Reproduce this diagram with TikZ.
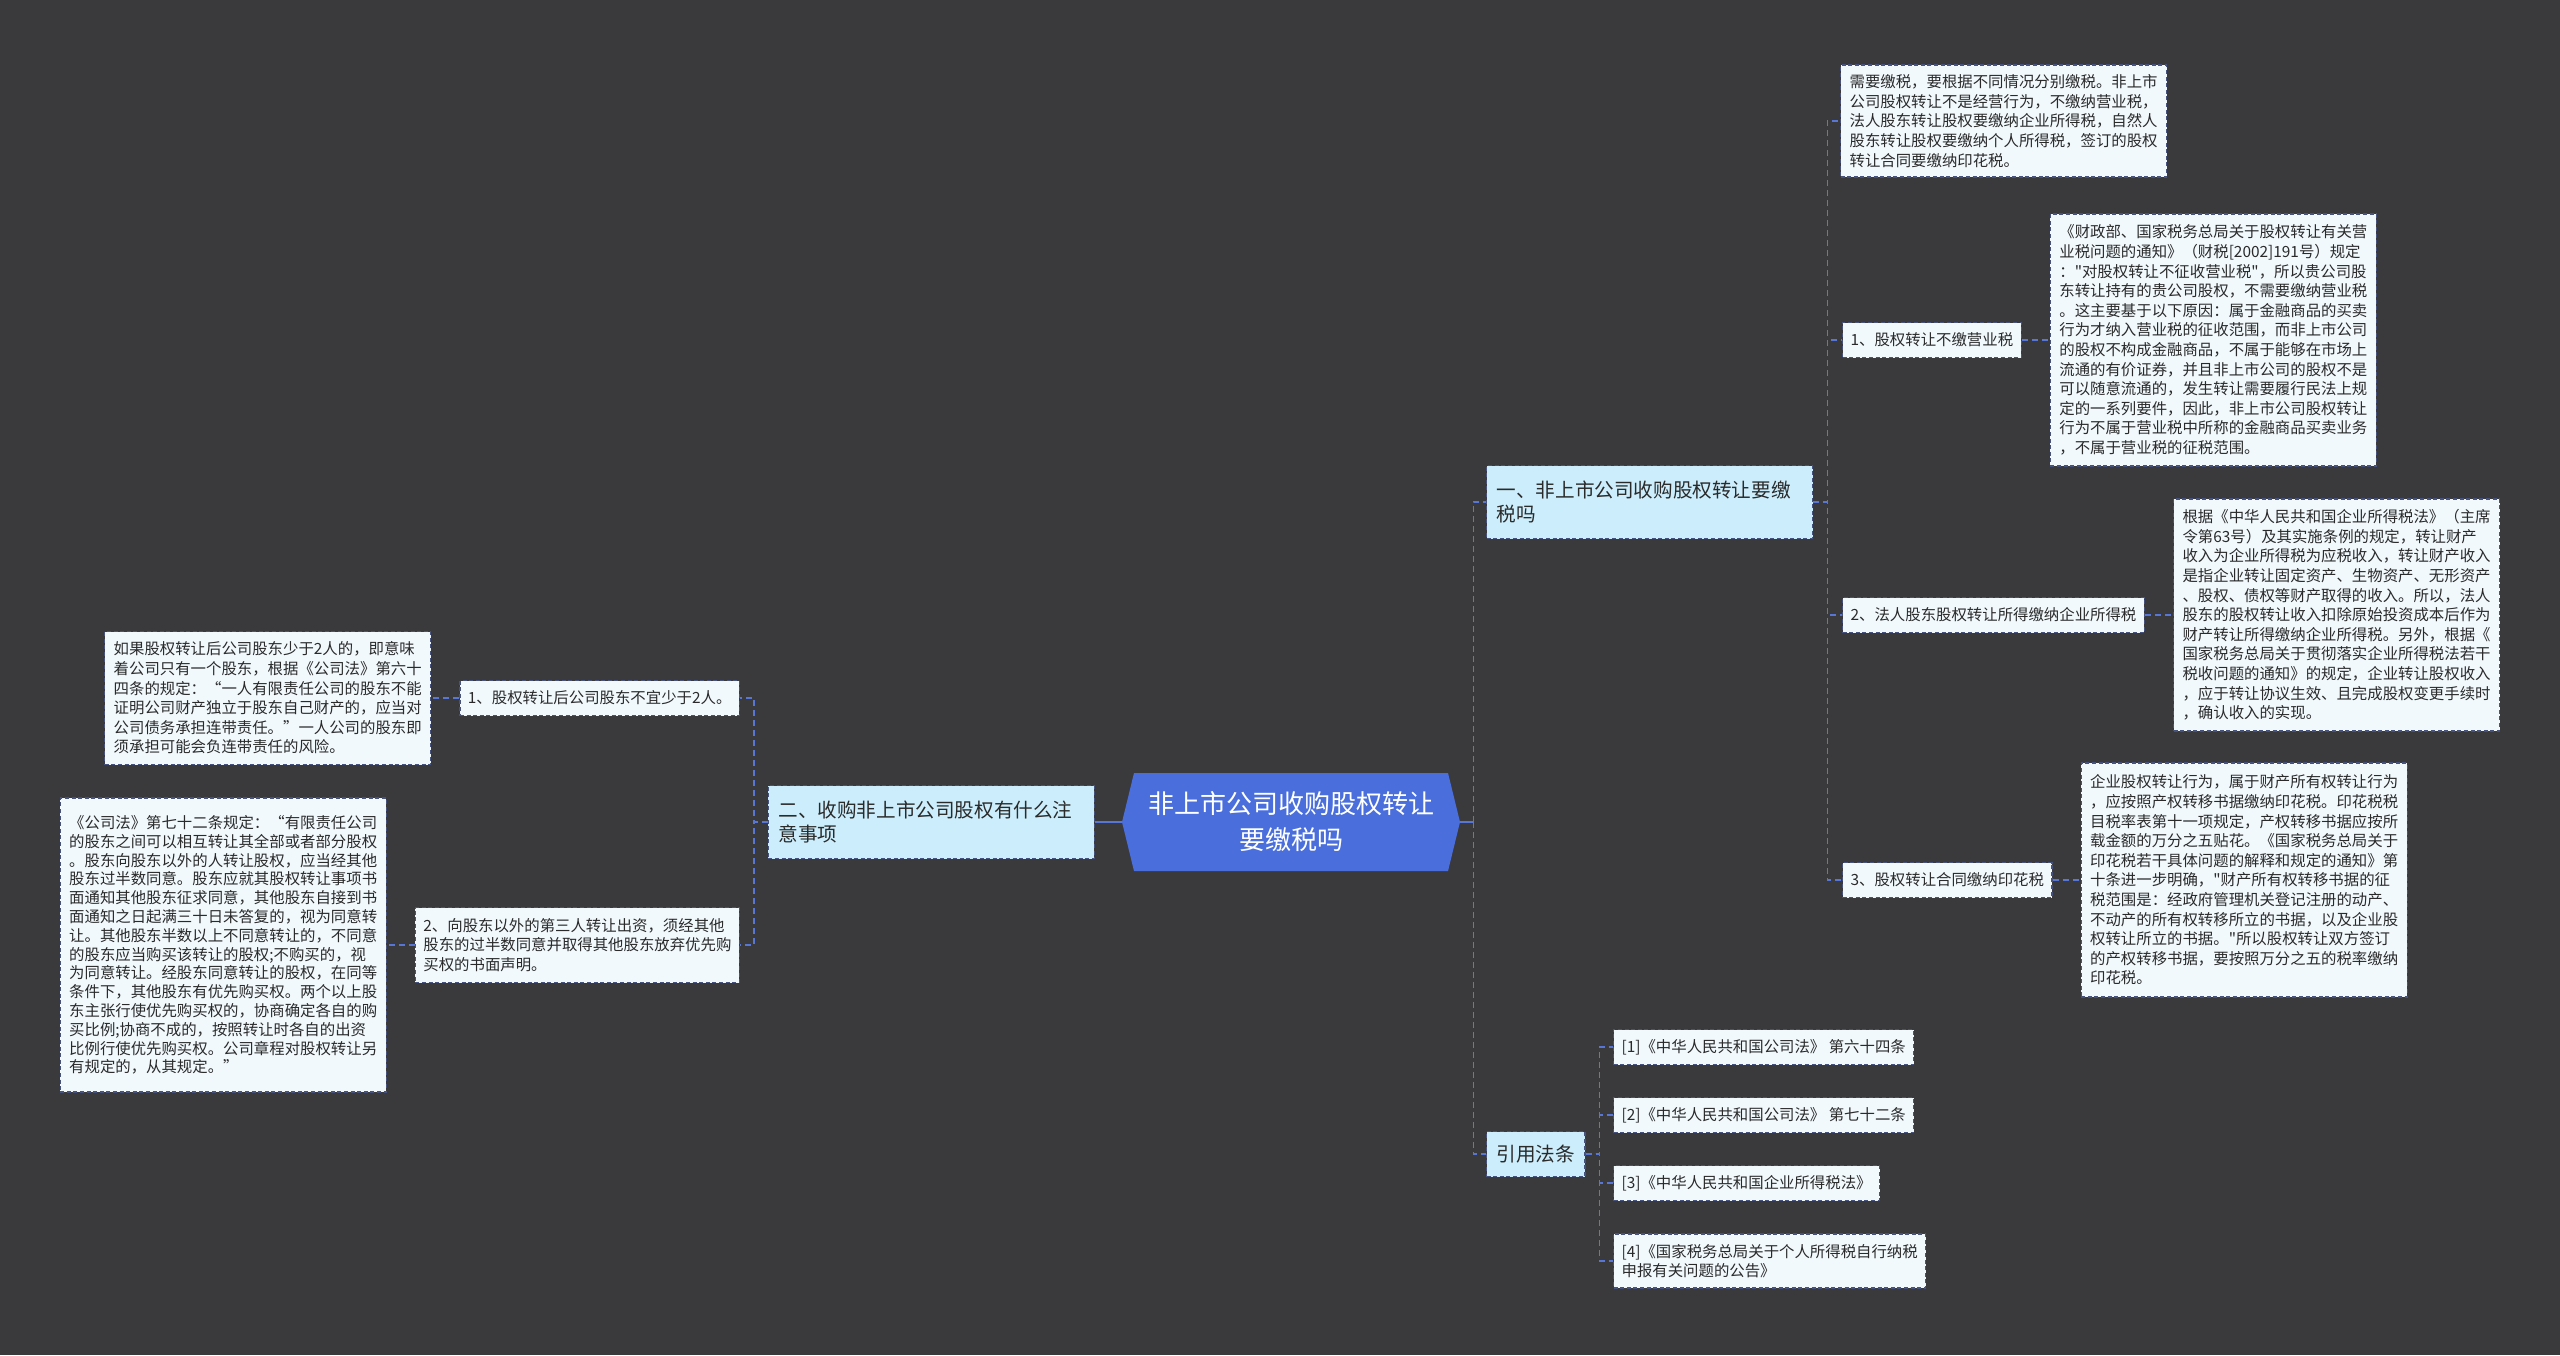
\documentclass[tikz,border=0pt]{standalone}
\usepackage{fontspec}
\setmainfont{Noto Sans CJK SC}[Ligatures=TeXOff]
\usepackage{xcolor}
\usetikzlibrary{positioning, calc}

\definecolor{bgdark}{HTML}{3A393B}
\definecolor{rootblue}{HTML}{4A6FDC}
\definecolor{branchfill}{HTML}{CCEEFC}
\definecolor{notefill}{HTML}{F1F9FD}
\definecolor{edgeline}{HTML}{46537F}
\definecolor{linkblue}{HTML}{5876D6}
\definecolor{textdark}{HTML}{2A2A2A}

\begin{document}
\begin{tikzpicture}[
  x = 0.5pt, y = -0.5pt,
  node distance = 14pt,
  card/.style = {rectangle, draw=edgeline, line width=0.6pt,
                 dash pattern=on 2pt off 1.3pt, text=textdark, align=left},
  note/.style = {card, fill=notefill, font=\fontsize{7.7}{9.8}\selectfont,
                 inner xsep=4.5pt, inner ysep=3pt, minimum width=162pt},
  leaf/.style = {card, fill=notefill, font=\fontsize{7.7}{9.8}\selectfont,
                 inner xsep=4pt, inner ysep=2pt, minimum height=17.5pt},
  branch/.style = {card, fill=branchfill, font=\fontsize{9.8}{12}\selectfont,
                   inner xsep=5pt, minimum height=36.5pt},
  topic/.style = {rectangle, minimum width=169pt, minimum height=49pt,
                  text=white, align=center, font=\fontsize{13}{18}\selectfont,
                  path picture={\fill[rootblue]
                    (path picture bounding box.west)
                    -- ([xshift=6pt]path picture bounding box.north west)
                    -- ([xshift=-6pt]path picture bounding box.north east)
                    -- (path picture bounding box.east)
                    -- ([xshift=-6pt]path picture bounding box.south east)
                    -- ([xshift=6pt]path picture bounding box.south west)
                    -- cycle;}},
  link/.style = {draw=linkblue, line width=0.7pt, dash pattern=on 3pt off 2pt},
  trunk/.style = {draw=linkblue, line width=1.1pt},
]
\fill[bgdark] (0,0) rectangle (2560,1355);
\useasboundingbox (0,0) rectangle (2560,1355);

% centre
\node[topic] (root) at (1291,822) {非上市公司收购股权转让\\要缴税吗};

% main branches
\node[branch, text width=153pt, anchor=west] (pay) at (1486,502) {一、非上市公司收购股权转让要缴\\税吗};
\node[branch, text width=153pt, anchor=east] (care) at (1095,822) {二、收购非上市公司股权有什么注\\意事项};
\node[branch, minimum height=22.5pt, anchor=west] (law) at (1486,1154) {引用法条};

% branch one
\node[note, anchor=west, minimum height=56pt] (gist) at (1840,121) {需要缴税，要根据不同情况分别缴税。非上市\\
公司股权转让不是经营行为，不缴纳营业税，\\
法人股东转让股权要缴纳企业所得税，自然人\\
股东转让股权要缴纳个人所得税，签订的股权\\
转让合同要缴纳印花税。};
\node[leaf, anchor=west] (biz) at (1842,340) {1、股权转让不缴营业税};
\node[note, right=of biz, minimum height=126pt] (bizdoc) {《财政部、国家税务总局关于股权转让有关营\\
业税问题的通知》（财税[2002]191号）规定\\
："对股权转让不征收营业税"，所以贵公司股\\
东转让持有的贵公司股权，不需要缴纳营业税\\
。这主要基于以下原因：属于金融商品的买卖\\
行为才纳入营业税的征收范围，而非上市公司\\
的股权不构成金融商品，不属于能够在市场上\\
流通的有价证券，并且非上市公司的股权不是\\
可以随意流通的，发生转让需要履行民法上规\\
定的一系列要件，因此，非上市公司股权转让\\
行为不属于营业税中所称的金融商品买卖业务\\
，不属于营业税的征税范围。};
\node[leaf, anchor=west] (cit) at (1842,615) {2、法人股东股权转让所得缴纳企业所得税};
\node[note, right=of cit, minimum height=116pt] (citdoc) {根据《中华人民共和国企业所得税法》（主席\\
令第63号）及其实施条例的规定，转让财产\\
收入为企业所得税为应税收入，转让财产收入\\
是指企业转让固定资产、生物资产、无形资产\\
、股权、债权等财产取得的收入。所以，法人\\
股东的股权转让收入扣除原始投资成本后作为\\
财产转让所得缴纳企业所得税。另外，根据《\\
国家税务总局关于贯彻落实企业所得税法若干\\
税收问题的通知》的规定，企业转让股权收入\\
，应于转让协议生效、且完成股权变更手续时\\
，确认收入的实现。};
\node[leaf, anchor=west] (stamp) at (1842,880) {3、股权转让合同缴纳印花税};
\node[note, right=of stamp, minimum height=117pt] (stampdoc) {企业股权转让行为，属于财产所有权转让行为\\
，应按照产权转移书据缴纳印花税。印花税税\\
目税率表第十一项规定，产权转移书据应按所\\
载金额的万分之五贴花。《国家税务总局关于\\
印花税若干具体问题的解释和规定的通知》第\\
十条进一步明确，"财产所有权转移书据的征\\
税范围是：经政府管理机关登记注册的动产、\\
不动产的所有权转移所立的书据，以及企业股\\
权转让所立的书据。"所以股权转让双方签订\\
的产权转移书据，要按照万分之五的税率缴纳\\
印花税。};

% branch two
\node[leaf, anchor=east] (few) at (740,698) {1、股权转让后公司股东不宜少于2人。};
\node[note, left=of few, minimum height=66.5pt] (fewdoc) {如果股权转让后公司股东少于2人的，即意味\\
着公司只有一个股东，根据《公司法》第六十\\
四条的规定：“一人有限责任公司的股东不能\\
证明公司财产独立于股东自己财产的，应当对\\
公司债务承担连带责任。”一人公司的股东即\\
须承担可能会负连带责任的风险。};
\node[leaf, anchor=east, minimum height=37.5pt] (third) at (740,945) {2、向股东以外的第三人转让出资，须经其他\\
股东的过半数同意并取得其他股东放弃优先购\\
买权的书面声明。};
\node[note, left=of third, minimum height=147pt, font=\fontsize{7.7}{9.4}\selectfont] (thirddoc) {《公司法》第七十二条规定：“有限责任公司\\
的股东之间可以相互转让其全部或者部分股权\\
。股东向股东以外的人转让股权，应当经其他\\
股东过半数同意。股东应就其股权转让事项书\\
面通知其他股东征求同意，其他股东自接到书\\
面通知之日起满三十日未答复的，视为同意转\\
让。其他股东半数以上不同意转让的，不同意\\
的股东应当购买该转让的股权;不购买的，视\\
为同意转让。经股东同意转让的股权，在同等\\
条件下，其他股东有优先购买权。两个以上股\\
东主张行使优先购买权的，协商确定各自的购\\
买比例;协商不成的，按照转让时各自的出资\\
比例行使优先购买权。公司章程对股权转让另\\
有规定的，从其规定。”};

% cited laws
\node[leaf, anchor=west] (ref1) at (1613,1047) {[1]《中华人民共和国公司法》 第六十四条};
\node[leaf, anchor=west] (ref2) at (1613,1115) {[2]《中华人民共和国公司法》 第七十二条};
\node[leaf, anchor=west] (ref3) at (1613,1183) {[3]《中华人民共和国企业所得税法》};
\node[leaf, anchor=west, minimum height=27pt] (ref4) at (1613,1261) {[4]《国家税务总局关于个人所得税自行纳税\\
申报有关问题的公告》};

% connectors
\draw[trunk] (root.west) -- (care.east);
\draw[trunk] (root.east) -- ++(13,0) coordinate (hub);
\draw[link] (hub) |- (pay.west);
\draw[link] (hub) |- (law.west);
\foreach \t in {gist, biz, cit, stamp}
  \draw[link] (pay.east) -- ++(14,0) |- (\t.west);
\foreach \t in {few, third}
  \draw[link] (care.west) -- ++(-14,0) |- (\t.east);
\foreach \t in {ref1, ref2, ref3, ref4}
  \draw[link] (law.east) -- ++(14,0) |- (\t.west);
\draw[link] (biz) -- (bizdoc);
\draw[link] (cit) -- (citdoc);
\draw[link] (stamp) -- (stampdoc);
\draw[link] (few) -- (fewdoc);
\draw[link] (third) -- (thirddoc);
\end{tikzpicture}
\end{document}
